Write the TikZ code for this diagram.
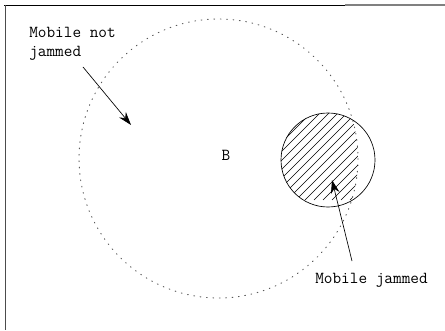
\documentclass[tikz,border=0pt]{standalone}
\usetikzlibrary{arrows.meta}
\tikzset{
  lbl/.style={font=\ttfamily\fontsize{12.6}{15}\selectfont, inner sep=0pt},
  pointer/.style={line width=0.5pt, -{Stealth[length=10pt,width=6.5pt]}},
  dotcircle/.style={line width=0.7pt, dash pattern=on 0.6pt off 4.2pt, line cap=round, gray!70!black},
}
\begin{document}
\begin{tikzpicture}[x=0.75pt,y=-0.75pt]
\useasboundingbox (0,0) rectangle (445,331);
% frame
\draw[line width=0.6pt] (4,5) -- (345,5);
\draw[line width=0.8pt, gray] (345,5) -- (445,5);
\draw[line width=0.6pt, gray!60!black] (5,5) -- (5,330);
% big dotted circle
\coordinate (Bc) at (218.5,158.5);
\draw[dotcircle] (Bc) circle[radius=139.5];
% hatched jammed region
\coordinate (Jc) at (328,160);
\begin{scope}
  \clip (Jc) circle[radius=47];
  \clip (Bc) circle[radius=139.5];
  \foreach \c in {424,433,...,560} {
    \draw[line width=0.45pt] (\c-200,200) -- (\c,0);
  }
\end{scope}
\draw[line width=0.5pt] (Jc) circle[radius=47];
% labels
\node[lbl, anchor=base west] (nj) at (29,38) {Mobile not};
\node[lbl, anchor=base west] (nj2) at (29,57) {jammed};
\node[lbl] (B) at (226,155) {B};
\node[lbl, anchor=base west] (jm) at (315,283) {Mobile jammed};
% arrows
\coordinate (a1) at (131,125);
\coordinate (a2) at (332,180);
\draw[pointer] (83,67) -- (a1);
\draw[pointer] (352,261) -- (a2);
\end{tikzpicture}
\end{document}
